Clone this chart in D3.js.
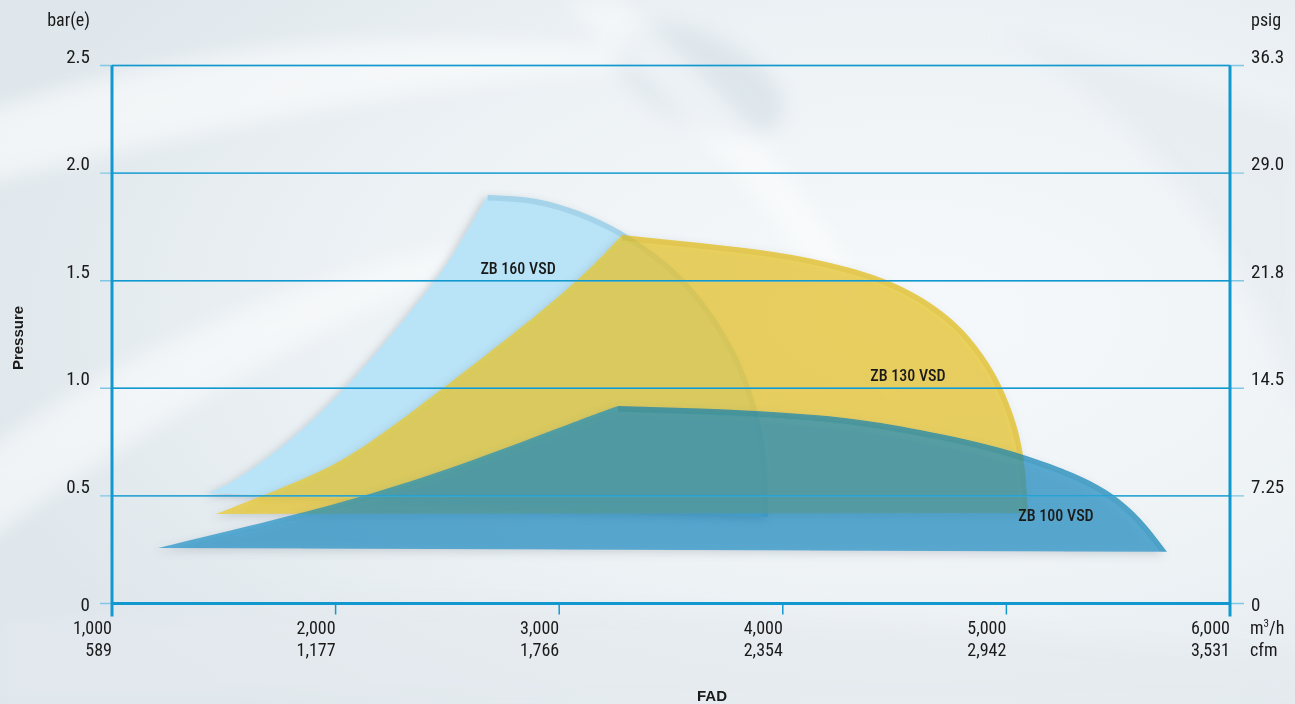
<!DOCTYPE html>
<html><head><meta charset="utf-8">
<script src="https://cdn.jsdelivr.net/npm/d3@7"></script>
<style>
html,body{margin:0;padding:0;background:#eef3f6;}
svg{display:block;}
text{font-family:'Liberation Sans Narrow','Roboto Condensed','Arial Narrow',Roboto,sans-serif;fill:#1a1a1a;}
</style></head>
<body>
<svg id="chart" width="1295" height="704"></svg>
<script>
// ---------- data ----------
const xTicks = [1000, 2000, 3000, 4000, 5000, 6000];
const m3hLabels = ["1,000", "2,000", "3,000", "4,000", "5,000", "6,000"];
const cfmLabels = ["589", "1,177", "1,766", "2,354", "2,942", "3,531"];
const yTicks = [0, 0.5, 1.0, 1.5, 2.0, 2.5];
const barLabels = ["0", "0.5", "1.0", "1.5", "2.0", "2.5"];
const psigLabels = ["0", "7.25", "14.5", "21.8", "29.0", "36.3"];

// envelope boundaries [FAD m3/h, pressure bar(e)]
const zb160Left = [[1429,0.513],[1572,0.588],[1796,0.760],[2020,0.978],[2243,1.240],[2436,1.489],[2556,1.675],[2681,1.898]];
const zb160Top  = [[2681,1.898],[2869,1.884],[3048,1.838],[3227,1.759],[3406,1.643],[3562,1.503],[3697,1.327],[3808,1.122],[3884,0.899],[3925,0.667],[3934,0.402]];
const zb130Left = [[1465,0.416],[1872,0.588],[2167,0.760],[2556,1.062],[2914,1.355],[3138,1.559],[3281,1.712]];
const zb130Top  = [[3281,1.712],[3630,1.675],[3987,1.629],[4301,1.559],[4524,1.475],[4703,1.364],[4837,1.234],[4949,1.067],[5025,0.890],[5074,0.690],[5097,0.421]];
const zb100Left = [[1206,0.258],[1720,0.388],[2167,0.514],[2614,0.667],[3062,0.841],[3263,0.918]];
const zb100Top  = [[3263,0.918],[3630,0.906],[3987,0.888],[4345,0.853],[4703,0.788],[4971,0.723],[5195,0.648],[5374,0.569],[5508,0.481],[5620,0.370],[5718,0.240]];

const seriesNames = ["ZB 160 VSD", "ZB 130 VSD", "ZB 100 VSD"];
const labelPos = [[2816,1.559],[4560,1.062],[5222,0.411]];

// ---------- layout ----------
const svg = d3.select("#chart");
const x = d3.scaleLinear().domain([1000, 6000]).range([112, 1230]);
const y = d3.scaleLinear().domain([0, 2.5]).range([603.5, 65.5]);

const defs = svg.append("defs");
const bg = defs.append("radialGradient").attr("id","bgGrad")
  .attr("cx","70%").attr("cy","45%").attr("r","75%");
bg.append("stop").attr("offset","0%").attr("stop-color","#f6f9fb");
bg.append("stop").attr("offset","55%").attr("stop-color","#edf2f5");
bg.append("stop").attr("offset","100%").attr("stop-color","#dfe7ec");
const blur = defs.append("filter").attr("id","blur").attr("x","-20%").attr("y","-20%").attr("width","140%").attr("height","140%");
blur.append("feGaussianBlur").attr("stdDeviation",10);
const shadow = defs.append("filter").attr("id","shadow").attr("x","-10%").attr("y","-10%").attr("width","120%").attr("height","130%");
shadow.append("feDropShadow").attr("dx",-3).attr("dy",3).attr("stdDeviation",4)
  .attr("flood-color","#5b6a75").attr("flood-opacity",0.35);

svg.append("rect").attr("width",1295).attr("height",704).attr("fill","url(#bgGrad)");
const swirl = svg.append("g").attr("filter","url(#blur)");
swirl.append("path").attr("d","M-40,120 C200,40 420,20 700,60 C560,70 300,100 -40,190 Z").attr("fill","#ffffff").attr("opacity",0.55);
swirl.append("path").attr("d","M-40,470 C150,330 330,260 560,230 C380,300 200,380 -40,560 Z").attr("fill","#ffffff").attr("opacity",0.5);
swirl.append("ellipse").attr("cx",700).attr("cy",80).attr("rx",90).attr("ry",45).attr("transform","rotate(25,700,80)").attr("fill","#d6e0e7").attr("opacity",0.7);
swirl.append("path").attr("d","M620,0 C760,120 880,260 900,420 C830,280 720,140 560,0 Z").attr("fill","#ffffff").attr("opacity",0.45);
swirl.append("path").attr("d","M1000,30 C1150,120 1260,260 1300,420 L1300,120 Z").attr("fill","#e2e9ee").attr("opacity",0.6);
swirl.append("path").attr("d","M0,620 C300,590 700,600 1295,660 L1295,704 L0,704 Z").attr("fill","#e4eaee").attr("opacity",0.6);

// ---------- envelopes ----------
const lineGen = d3.line().x(d => x(d[0])).y(d => y(d[1])).curve(d3.curveNatural);
function envelopePath(left, top) {
  return lineGen(left) + lineGen(top).replace(/^M/, "L") + "Z";
}
const shapes = [
  {left: zb160Left, top: zb160Top, fill: "#b9e3f7", op: 1, band: "#96c6df", bandOp: 0.55},
  {left: zb130Left, top: zb130Top, fill: "rgb(235,200,30)", op: 0.7, band: "#b8960a", bandOp: 0.16},
  {left: zb100Left, top: zb100Top, fill: "rgb(0,138,195)", op: 0.64, band: "#0a5f7a", bandOp: 0.14}
];
const shapeG = svg.append("g");
shapes.forEach((s, i) => {
  const d = envelopePath(s.left, s.top);
  defs.append("clipPath").attr("id","clip"+i).append("path").attr("d", d);
  const g = shapeG.append("g");
  g.append("path").attr("d", d).attr("fill", s.fill).attr("fill-opacity", s.op).attr("filter","url(#shadow)");
  g.append("path").attr("d", lineGen(s.top)).attr("fill","none")
    .attr("stroke", s.band).attr("stroke-opacity", s.bandOp).attr("stroke-width", 11)
    .attr("clip-path","url(#clip"+i+")");
});

// ---------- grid & axes ----------
const axisColor = "#1199cf";
const grid = svg.append("g");
grid.selectAll("line.ext").data(yTicks).join("line")
  .attr("x1", x(1000) - 12).attr("x2", x(6000) + 14)
  .attr("y1", d => y(d)).attr("y2", d => y(d))
  .attr("stroke", "#7fc7e4").attr("stroke-width", 1.4);
grid.selectAll("line.g").data(yTicks).join("line")
  .attr("x1", x(1000)).attr("x2", x(6000))
  .attr("y1", d => y(d)).attr("y2", d => y(d))
  .attr("stroke", axisColor).attr("stroke-width", d => d === 0 ? 3 : 1.4);

svg.append("line").attr("x1", x(1000)).attr("x2", x(1000)).attr("y1", y(2.5)).attr("y2", y(0) + 13)
  .attr("stroke", axisColor).attr("stroke-width", 3);
svg.append("line").attr("x1", x(6000)).attr("x2", x(6000)).attr("y1", y(2.5)).attr("y2", y(0) + 13)
  .attr("stroke", axisColor).attr("stroke-width", 3);
svg.selectAll("line.xt").data(xTicks.slice(1, -1)).join("line")
  .attr("x1", d => x(d)).attr("x2", d => x(d)).attr("y1", y(0)).attr("y2", y(0) + 11)
  .attr("stroke", axisColor).attr("stroke-width", 1.5);

// y labels
svg.selectAll("text.yl").data(yTicks).join("text")
  .attr("x", 90).attr("y", d => d === 0 ? y(d) + 7 : y(d) - 3)
  .attr("text-anchor", "end").style("font-size", "19px")
  .text((d, i) => barLabels[i]);
svg.selectAll("text.yr").data(yTicks).join("text")
  .attr("x", 1251).attr("y", d => d === 0 ? y(d) + 7 : y(d) - 3)
  .attr("text-anchor", "start").style("font-size", "19px")
  .text((d, i) => psigLabels[i]);
svg.append("text").attr("x", 90).attr("y", 26).attr("text-anchor","end").style("font-size","18px").text("bar(e)");
svg.append("text").attr("x", 1251).attr("y", 26).attr("text-anchor","start").style("font-size","18px").text("psig");

// x labels
svg.selectAll("text.xm").data(xTicks).join("text")
  .attr("x", d => x(d)).attr("y", 634).attr("text-anchor","end").style("font-size","18px")
  .text((d, i) => m3hLabels[i]);
svg.selectAll("text.xc").data(xTicks).join("text")
  .attr("x", d => x(d)).attr("y", 656).attr("text-anchor","end").style("font-size","18px")
  .text((d, i) => cfmLabels[i]);
const unit = svg.append("text").attr("x", 1250).attr("y", 634).style("font-size","18px");
unit.append("tspan").text("m");
unit.append("tspan").attr("dy",-7).style("font-size","11px").text("3");
unit.append("tspan").attr("dy",7).text("/h");
svg.append("text").attr("x", 1250).attr("y", 656).style("font-size","18px").text("cfm");

// axis titles
svg.append("text").attr("x", 712).attr("y", 701).attr("text-anchor","middle")
  .style("font-size","15px").style("font-weight","bold").style("font-family","'Liberation Sans',Arial,sans-serif").text("FAD");
svg.append("text").attr("transform","translate(23,338) rotate(-90)").attr("text-anchor","middle")
  .style("font-size","15px").style("font-weight","bold").style("font-family","'Liberation Sans',Arial,sans-serif").text("Pressure");

// series labels
svg.selectAll("text.sl").data(seriesNames).join("text")
  .attr("x", (d, i) => x(labelPos[i][0])).attr("y", (d, i) => y(labelPos[i][1]) + 6)
  .attr("text-anchor","middle").style("font-size","16px").style("font-weight","500")
  .text(d => d);
</script>
</body></html>
